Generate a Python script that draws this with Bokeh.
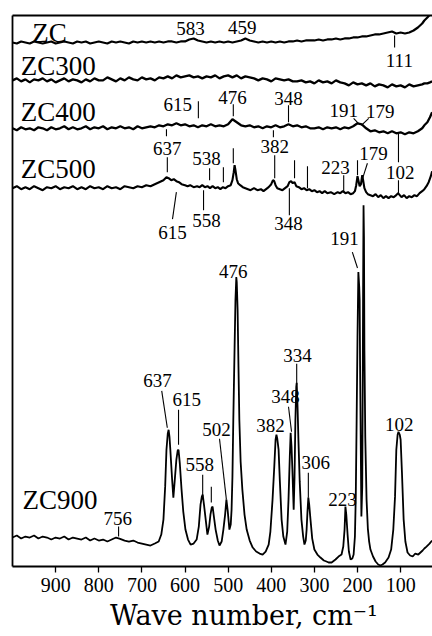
from bokeh.plotting import figure
from bokeh.models import ColumnDataSource, Range1d, FixedTicker, LinearAxis
from bokeh.core.properties import value
from bokeh.embed import file_html
from bokeh.resources import INLINE

# ---------------- data ----------------
tick_values = [900, 800, 700, 600, 500, 400, 300, 200, 100]

wn_grid = [1000, 990, 980, 970, 960, 950, 940, 930, 920, 910,
           900, 890, 880, 870, 860, 850, 840, 830, 820, 810,
           800, 790, 780, 770, 760, 750, 740, 730, 720, 710,
           700, 690, 680, 670, 660, 650, 640, 630, 620, 610,
           600, 590, 580, 570, 560, 550, 540, 530, 520, 510,
           500, 490, 480, 470, 460, 450, 440, 430, 420, 410,
           400, 390, 380, 370, 360, 350, 340, 330, 320, 310,
           300, 290, 280, 270, 260, 250, 240, 230, 220, 210,
           200, 190, 180, 170, 160, 150, 140, 130, 120, 110,
           100, 90, 80, 70, 60, 50, 45, 38, 32, 27]

zc_int = [0, -1, 1, 0, -1, 1, 0, -1, 0, 1,
          -1, 0, 1, 0, -1, 1, 0, 1, -1, 0,
          1, 0, -1, 1, 0, 1, 0, -1, 1, 0,
          1, 0, 1, 0, 1, 0, 1, 1, 0, 1,
          1, 3, 4, 2, 1, 0, 1, 0, 1, 0,
          1, 0, 1, 2, 4, 2, 1, 0, 1, 0,
          1, 0, 1, 0, 1, 1, 2, 1, 2, 2,
          2, 3, 2, 3, 3, 4, 3, 4, 4, 5,
          5, 6, 6, 7, 8, 8, 9, 10, 11, 9,
          10, 9, 10, 12, 15, 19, 22, 25, 28, 31]

zc300_int = [0, 2, -1, 1, -2, 1, 0, 2, -1, 1,
             -2, 0, 2, -1, 1, 0, -2, 1, -1, 2,
             0, 0, 3, 1, -1, 2, 0, 3, 1, 0,
             3, 1, 2, 0, 3, 2, 4, 2, 5, 3,
             4, 5, 3, 4, 2, 4, 3, 5, 2, 4,
             5, 3, 5, 2, 4, 3, 2, 0, 2, 1,
             -1, 2, 1, 0, 1, -1, -1, 0, -2, -1,
             -3, 0, -2, -1, -3, 0, -2, -3, -5, -2,
             -4, -3, -5, -3, -6, -4, -5, -7, -4, -6,
             -5, -7, -4, -6, -5, -4, -3, -3, -2, -1]

zc400_int = [0, -2, 1, -1, 0, -2, 1, 0, -2, 1,
             -1, 0, 2, -1, 1, -1, 0, 2, -1, 1,
             0, 2, -1, 1, 0, 2, 0, 1, -1, 2,
             0, 1, 2, 1, 3, 2, 4, 3, 5, 3,
             4, 2, 3, 1, 3, 2, 4, 2, 3, 2,
             4, 9, 6, 3, 2, 3, 1, 2, 0, 2,
             1, 3, 1, 2, 4, 2, 3, 1, 2, 0,
             0, 1, -1, 1, 0, 1, -1, 1, 0, 2,
             5, 4, 0, -3, -2, -4, -3, -5, -3, -5,
             -4, -6, -4, -5, -3, 0, 3, 6, 11, 16]

zc500_wn = [1000, 990, 980, 970, 960, 950, 940, 930, 920, 910,
            900, 890, 880, 870, 860, 850, 840, 830, 820, 810,
            800, 790, 780, 770, 760, 750, 740, 730, 720, 710,
            700, 690, 680, 670, 660, 650, 643, 638, 632, 626,
            620, 614, 608, 600, 594, 588, 580, 572, 566, 560,
            554, 548, 542, 536, 530, 524, 518, 512, 506, 500,
            494, 490, 487, 485, 483, 480, 477, 472, 466, 460,
            454, 448, 440, 432, 424, 418, 412, 406, 400, 396,
            393, 390, 386, 380, 374, 368, 362, 358, 354, 350,
            346, 342, 336, 330, 324, 318, 312, 306, 300, 294,
            288, 282, 276, 270, 262, 254, 246, 240, 234, 228,
            222, 216, 210, 206, 203, 200, 198, 195, 192, 189,
            187, 184, 180, 176, 170, 164, 158, 152, 146, 140,
            134, 128, 122, 116, 110, 106, 102, 98, 92, 86,
            80, 74, 68, 62, 56, 50, 45, 40, 35, 30, 27]
zc500_int = [0, 2, -1, 1, -1, 2, 0, -2, 1, 0,
             2, -1, 1, 0, 2, -1, 1, -1, 2, 0,
             1, -1, 2, 0, 1, -1, 2, 1, 0, 2,
             1, 3, 2, 4, 6, 8, 11, 10, 8, 9,
             7, 6, 4, 3, 2, 3, 1, 2, 1, 3,
             1, 2, 0, 2, 0, 1, -1, 1, 0, 2,
             3, 8, 16, 23, 18, 9, 5, 3, 1, 0,
             -1, -2, 0, -2, -1, -3, -1, 1, 4, 8,
             7, 3, 0, -1, -2, 0, 2, 6, 7, 5,
             6, 2, 1, -1, 0, -2, -1, -3, -2, -4,
             -3, -5, -3, -5, -4, -6, -4, -5, -3, -5,
             -4, -6, -5, -3, 3, 12, 8, 2, 4, 13,
             8, 0, -4, -6, -7, -8, -6, -9, -7, -10,
             -8, -10, -8, -9, -7, -5, -7, -9, -7, -10,
             -8, -9, -7, -8, -5, -3, -1, 2, 6, 12, 17]

zc900_wn = [1000, 990, 980, 970, 960, 950, 940, 930, 920, 910,
            900, 890, 880, 870, 860, 850, 840, 830, 820, 810,
            800, 790, 780, 770, 760, 752, 740, 730, 720, 710,
            700, 690, 680, 670, 661, 655, 650, 646, 643, 640,
            638, 636, 634, 630, 627, 624, 620, 617, 615, 612,
            608, 604, 599, 593, 587, 580, 573, 568, 564, 561,
            559, 556, 552, 548, 544, 541, 538, 536, 533, 529,
            524, 520, 515, 511, 507, 504, 501, 497, 494, 492,
            490, 488, 485, 483, 481, 480, 478, 476, 474, 471,
            467, 462, 457, 450, 443, 435, 427, 420, 413, 406,
            402, 397, 393, 390, 388, 386, 383, 380, 376, 372,
            367, 363, 360, 357, 355, 353, 351, 349, 348, 346,
            344, 342, 341, 339, 337, 334, 330, 326, 323, 320,
            318, 316, 314, 312, 309, 305, 300, 293, 286, 278,
            272, 267, 260, 251, 244, 237, 233, 230, 228, 226,
            223, 220, 216, 212, 209, 206, 204, 202, 200, 198,
            196, 195, 194, 192, 191, 189, 188, 187, 186, 185,
            184, 182, 179, 176, 173, 170, 164, 158, 152, 147,
            142, 136, 128, 122, 117, 113, 110, 107, 105, 102,
            100, 97, 93, 89, 84, 78, 72, 66, 59, 54,
            49, 45, 40, 33, 27]
zc900_int = [29, 31, 28, 30, 29, 31, 28, 30, 29, 27,
             29, 28, 30, 27, 29, 28, 27, 29, 26, 28,
             26, 27, 25, 27, 29, 28, 26, 25, 26, 24,
             23, 22, 21, 23, 25, 32, 47, 80, 117, 133,
             137, 130, 117, 88, 69, 85, 107, 116, 117, 103,
             77, 55, 37, 27, 22, 23, 27, 40, 62, 70,
             72, 62, 47, 32, 40, 52, 59, 60, 50, 37,
             26, 21, 25, 37, 52, 67, 56, 37, 42, 57,
             90, 147, 220, 267, 290, 285, 257, 200, 147, 105,
             77, 52, 37, 26, 19, 15, 13, 12, 15, 22,
             35, 67, 100, 127, 132, 128, 117, 85, 47, 30,
             22, 35, 67, 110, 134, 120, 97, 70, 57, 90,
             147, 180, 184, 160, 127, 85, 47, 30, 22, 26,
             37, 55, 69, 62, 47, 28, 17, 12, 9, 6,
             5, 4, 4, 7, 10, 12, 20, 37, 60, 52,
             32, 15, 7, 8, 12, 30, 70, 147, 230, 295,
             280, 267, 200, 100, 50, 80, 167, 280, 362, 330,
             217, 130, 67, 38, 25, 17, 10, 5, 2, 1,
             2, 4, 9, 17, 37, 70, 117, 132, 135, 132,
             127, 95, 47, 25, 14, 11, 10, 13, 12, 14,
             16, 18, 20, 23, 26]

series_names = ["ZC", "ZC300", "ZC400", "ZC500", "ZC900"]
series_offsets = [525, 487, 439, 379, 0]

# sample-name labels
name_wn = [954, 981, 981, 981, 977]
name_v = [534, 501, 455, 398, 67]

# peak labels
pk_text = ["583", "459", "111",
           "615", "476", "348", "191", "179",
           "637", "538", "382", "223", "179", "102",
           "615", "558", "348",
           "191", "476", "334", "637", "615", "502", "382", "348", "102",
           "558", "306", "223", "756"]
pk_wn = [587, 467, 103,
         617, 490, 360, 232, 147,
         641, 550, 392, 251, 163, 101,
         629, 550, 360,
         230, 488, 339, 664, 596, 527, 402, 367, 103,
         566, 297, 235, 756]
pk_v = [539, 540, 507,
        463, 470, 469, 457, 456,
        419, 409, 421, 400, 414, 395,
        335, 347, 344,
        329, 296, 211, 186, 167, 137, 141, 170, 142,
        102, 104, 67, 48]

# marker ticks and leader lines
ld_w0 = [114,
         569, 488, 360, 209, 174, 643, 395, 105,
         641, 543, 511, 488, 392, 346, 316, 232, 200, 177, 105,
         629, 557, 358,
         212, 341, 654, 615, 520, 360, 559, 539, 314, 754]
ld_v0 = [532,
         466, 463, 462, 449, 449, 438, 437, 434,
         410, 399, 400, 419, 412, 407, 401, 392, 407, 404, 387,
         348, 377, 379,
         315, 203, 176, 157, 128, 160, 92, 80, 94, 40]
ld_w1 = [114,
         569, 488, 360, 198, 191, 643, 395, 105,
         641, 543, 511, 488, 392, 346, 316, 232, 200, 188, 105,
         620, 557, 358,
         200, 341, 641, 615, 504, 353, 559, 539, 314, 754]
ld_v1 = [520,
         449, 451, 445, 444, 442, 431, 430, 405,
         395, 387, 385, 404, 389, 389, 379, 375, 392, 389, 373,
         375, 357, 352,
         299, 182, 139, 122, 67, 135, 70, 64, 69, 30]

# ---------------- figure ----------------
p = figure(width=432, height=636, x_range=Range1d(1000, 26.1), y_range=Range1d(0, 552),
           output_backend="svg", toolbar_location=None,
           min_border_left=12, min_border_right=0, min_border_top=15, min_border_bottom=70)
p.grid.visible = False
p.outline_line_color = None
p.background_fill_color = "white"
p.border_fill_color = "white"

xa = p.xaxis[0]
xa.ticker = FixedTicker(ticks=tick_values)
xa.minor_tick_line_color = None
xa.major_tick_in = 0
xa.major_tick_out = 6
xa.major_tick_line_width = 1.3
xa.axis_line_width = 1.8
xa.major_label_text_font = "Liberation Serif"
xa.major_label_text_font_size = "20px"
xa.major_label_text_color = "black"
xa.major_label_standoff = 5
xa.axis_label = "\u00a0\u00a0\u00a0\u00a0\u00a0Wave number, cm\u207b\u00b9"
xa.axis_label_text_font = "DejaVu Serif"
xa.axis_label_text_font_size = "27px"
xa.axis_label_text_font_style = "normal"
xa.axis_label_text_color = "black"
xa.axis_label_standoff = 5

ya = p.yaxis[0]
ya.ticker = FixedTicker(ticks=[])
ya.major_tick_line_color = None
ya.minor_tick_line_color = None
ya.major_label_standoff = 0
ya.axis_line_width = 1.8

top = LinearAxis(ticker=FixedTicker(ticks=[]), major_tick_line_color=None,
                 minor_tick_line_color=None, major_label_standoff=0,
                 axis_line_width=1.8)
p.add_layout(top, "above")

spectra = [(wn_grid, zc_int), (wn_grid, zc300_int), (wn_grid, zc400_int),
           (zc500_wn, zc500_int), (zc900_wn, zc900_int)]
widths = [2.2, 2.3, 2.3, 2.1, 1.8]
for (wn, inten), off, lw in zip(spectra, series_offsets, widths):
    src = ColumnDataSource(dict(x=wn, y=[v + off for v in inten]))
    p.line("x", "y", source=src, line_color="black", line_width=lw)

seg = ColumnDataSource(dict(x0=ld_w0, y0=ld_v0, x1=ld_w1, y1=ld_v1))
p.segment("x0", "y0", "x1", "y1", source=seg, line_color="black", line_width=1.1)

nsrc = ColumnDataSource(dict(x=name_wn, y=name_v, t=series_names))
p.text("x", "y", text="t", source=nsrc, text_font=value("Liberation Serif"),
       text_font_size=value("27px"), text_align="left", text_baseline="middle",
       text_color="black")

psrc = ColumnDataSource(dict(x=pk_wn, y=pk_v, t=pk_text))
p.text("x", "y", text="t", source=psrc, text_font=value("Liberation Serif"),
       text_font_size=value("19px"), text_align="center", text_baseline="middle",
       text_color="black")

open("out.html", "w").write(file_html(p, INLINE))
